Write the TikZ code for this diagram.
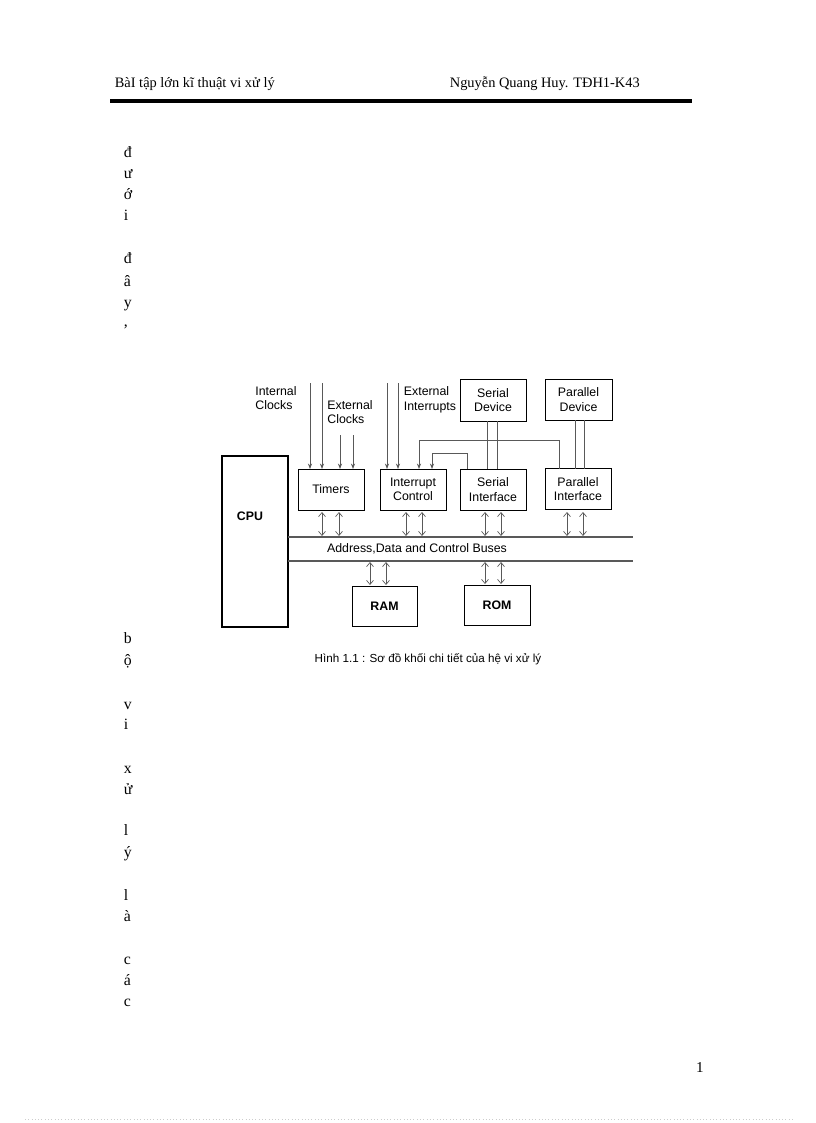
\documentclass[tikz,border=0pt]{standalone}
\usepackage{fontspec}
\setmainfont{Liberation Serif}
\newfontfamily\arial{Liberation Sans}
\usetikzlibrary{arrows.meta}
\begin{document}
\begin{tikzpicture}[x=0.729pt,y=-0.729pt,
 blk/.style={draw,line width=0.6pt,minimum width=0pt,font=\arial\fontsize{9}{10.5}\selectfont,align=center,inner sep=0pt},
 thin/.style={line width=0.5pt,gray!70!black},
 inarr/.style={thin,-{Stealth[length=4pt,width=3pt]}},
 busarr/.style={thin,{Straight Barb[length=3pt,width=5pt]}-{Straight Barb[length=3pt,width=5pt]}},
 lbl/.style={font=\arial\fontsize{9}{10.5}\selectfont,align=left},
 vl/.style={font=\fontsize{11.5}{12}\selectfont,anchor=base west}]
\useasboundingbox (0,0) rectangle (816,1123);
% header
\node[anchor=base west,font=\fontsize{10.5}{12}\selectfont] (h1) at (110,88) {BàI tập lớn kĩ thuật vi xử lý};
\node[anchor=base west,font=\fontsize{10.5}{12}\selectfont] (h2) at (445,88) {Nguyễn Quang Huy. TĐH1-K43};
\draw[line width=2.2pt] (110,101) -- (692,101);
% vertical letters
\foreach \c/\y in {đ/158,ư/179,ớ/200,i/221,đ/264,â/286,y/307,{,}/326,b/643,ộ/665,v/709,i/729,x/773,ử/794,l/835,ý/857,l/900,à/921,c/964,á/985,c/1006}
 \node[vl] at (119,\y) {\c};
\node[anchor=base,font=\fontsize{11}{12}\selectfont] (pg) at (700,1072) {1};
\draw[gray!40,dotted] (25,1119) -- (795,1119);
% boxes
\node[draw,line width=1.2pt,minimum width=66*0.729pt,minimum height=171*0.729pt,inner sep=0pt] (cpu) at (255,541.5) {};
\node[font=\arial\bfseries\fontsize{9}{10.5}\selectfont] (cput) at (250,516) {CPU};
\newcommand\bx[6]{\node[blk,minimum width=#4*0.729pt,minimum height=#5*0.729pt] (#1) at (#2,#3) {#6};}
\bx{tim}{331}{489.5}{66}{41}{Timers}
\bx{int}{413}{489.5}{66}{41}{Interrupt\\Control}
\bx{ser}{493}{489.5}{66}{41}{Serial\\Interface}
\bx{par}{578}{489}{66}{41}{Parallel\\Interface}
\bx{sdev}{493}{400}{66}{42}{Serial\\Device}
\bx{pdev}{578.5}{399.5}{67}{41}{Parallel\\Device}
\node[blk,minimum width=65*0.729pt,minimum height=40*0.729pt,font=\arial\bfseries\fontsize{9}{10.5}\selectfont] (ram) at (384.5,606) {RAM};
\node[blk,minimum width=66*0.729pt,minimum height=40*0.729pt,font=\arial\bfseries\fontsize{9}{10.5}\selectfont] (rom) at (497,605) {ROM};
% bus
\coordinate (b1s) at (288,537); \coordinate (b1e) at (633,537);
\coordinate (b2s) at (288,561); \coordinate (b2e) at (633,561);
\draw[thin,line width=0.8pt] (b1s) -- (b1e);
\draw[thin,line width=0.8pt] (b2s) -- (b2e);
\node[lbl] (busl) at (417,549) {Address,Data and Control Buses};
% bus arrows
\foreach \x in {322,339} \draw[busarr] (\x,512) -- (\x,536);
\foreach \x in {406,422} \draw[busarr] (\x,512) -- (\x,536);
\foreach \x in {485,501} \draw[busarr] (\x,512) -- (\x,536);
\foreach \x in {567,583} \draw[busarr] (\x,512) -- (\x,536);
\foreach \x in {370,386} \draw[busarr] (\x,562) -- (\x,585);
\foreach \x in {485,501} \draw[busarr] (\x,562) -- (\x,584);
% inputs
\foreach \x in {310,322} \draw[inarr] (\x,383) -- (\x,469);
\foreach \x in {340,353} \draw[inarr] (\x,435) -- (\x,469);
\foreach \x in {387,398} \draw[inarr] (\x,383) -- (\x,469);
\node[lbl] (ic) at (276,398) {Internal\\Clocks};
\node[lbl] (ec) at (350,412) {External\\Clocks};
\node[lbl] (ei) at (430,400) {External\\Interrupts};
% feedback
\draw[inarr] (559,469) -- (559,440) -- (419,440) -- (419,469);
\draw[inarr] (467,469) -- (467,453) -- (432,453) -- (432,469);
% device links
\foreach \x in {487,497} \draw[thin] (\x,421) -- (\x,469);
\foreach \x in {575,584} \draw[thin] (\x,420) -- (\x,469);
\node[font=\arial\fontsize{8.5}{10}\selectfont] (cap) at (428,659) {Hình 1.1 : Sơ đồ khối chi tiết của hệ vi xử lý};
\end{tikzpicture}
\end{document}
